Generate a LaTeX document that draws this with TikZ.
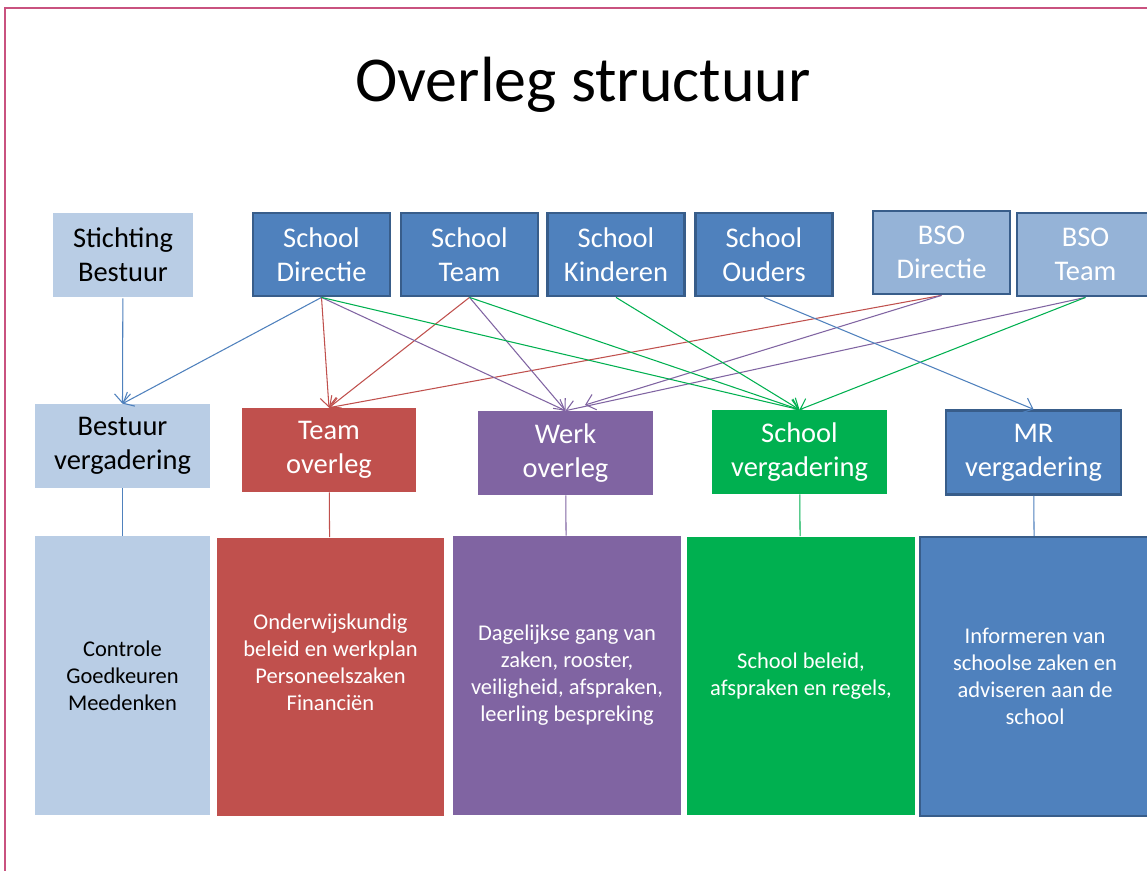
\documentclass[tikz,border=0pt]{standalone}
\usepackage{fontspec}
\setmainfont{Carlito}
\usetikzlibrary{arrows.meta}
\definecolor{paleblue}{HTML}{B9CDE5}
\definecolor{midblue}{HTML}{4F81BD}
\definecolor{bsoblue}{HTML}{95B3D7}
\definecolor{darkedge}{HTML}{385D8A}
\definecolor{teamred}{HTML}{C0504D}
\definecolor{werkpurple}{HTML}{8064A2}
\definecolor{schoolgreen}{HTML}{00B050}
\definecolor{framepink}{HTML}{C9527F}
\tikzset{topbox/.style={
            draw=darkedge,
            fill=midblue,
            line width=1.6pt,
            text=white,
            align=center,
            inner sep=0pt,
            minimum width=2.74cm,
            minimum height=1.66cm,
            font=\fontsize{16.2}{19.4}\selectfont
        },
        meetbox/.style={
            fill=#1,
            text=white,
            align=center,
            inner sep=0pt,
            minimum width=3.5cm,
            minimum height=1.68cm,
            font=\fontsize{16.2}{19.4}\selectfont
        },
        detailbox/.style={
            fill=#1,
            text=white,
            align=center,
            inner sep=0pt,
            minimum height=5.58cm,
            font=\fontsize{12.8}{15.4}\selectfont
        },
        link/.style={
            line width=0.6pt,
            -{Straight Barb[length=1.8mm,width=3.2mm]}
        },
        stem/.style={
            line width=0.6pt
        }
    }

\begin{document}
\begin{tikzpicture}[x=0.02cm,y=-0.02cm]
        \useasboundingbox[fill=white] (0,0) rectangle (1147,870);
        \draw[framepink,line width=1.4pt] (5,900) -- (5,8) -- (1200,8);
        \node at (583,85) (title) {\fontsize{36.4}{44}\selectfont Overleg structuur};
        % bovenste rij
        \node[topbox,draw=none,fill=paleblue,text=black,minimum width=2.8cm,minimum height=1.68cm] at (123,255) (stichting) {Stichting\\Bestuur};
        \node[topbox] at (321.5,254.5) (sdirectie) {School\\Directie};
        \node[topbox] at (469.5,254.5) (steam) {School\\Team};
        \node[topbox] at (616,254.5) (skinderen) {School\\Kinderen};
        \node[topbox] at (764,254.5) (souders) {School\\Ouders};
        \node[topbox,fill=bsoblue] at (941.5,252.5) (bdirectie) {BSO\\Directie};
        \node[topbox,fill=bsoblue] at (1085.5,254.5) (bteam) {BSO\\Team};
        % overleggen
        \node[meetbox=paleblue,text=black] at (122.5,446) (bestuurverg) {Bestuur\\vergadering};
        \node[meetbox=teamred] at (329,450) (teamoverleg) {Team\\overleg};
        \node[meetbox=werkpurple] at (565.5,453) (werkoverleg) {Werk\\overleg};
        \node[meetbox=schoolgreen] at (799.5,452) (schoolverg) {School\\vergadering};
        \node[meetbox=midblue,draw=darkedge,line width=1.4pt] at (1033.5,452.5) (mrverg) {MR\\vergadering};
        \coordinate (werkin) at (585,405);
        % inhoud
        \node[detailbox=paleblue,text=black,minimum width=3.5cm] at (122.5,675.5) (bestuurtaak) {Controle\\Goedkeuren\\Meedenken};
        \node[detailbox=teamred,minimum width=4.54cm] at (330.5,677) (teamtaak) {};
        \node[align=center,text=white,font=\fontsize{12.8}{15.4}\selectfont] at (330.5,662.5) (teamtekst) {Onderwijskundig\\beleid en werkplan\\Personeelszaken\\Financiën};
        \node[detailbox=werkpurple,minimum width=4.56cm] at (567,675.5) (werktaak) {Dagelijkse gang van\\zaken, rooster,\\veiligheid, afspraken,\\leerling bespreking};
        \node[detailbox=schoolgreen,minimum width=4.56cm] at (801,676) (schooltaak) {School beleid,\\afspraken en regels,};
        \node[detailbox=midblue,draw=darkedge,line width=1.4pt,minimum width=4.6cm] at (1035,676.5) (mrtaak) {Informeren van\\schoolse zaken en\\adviseren aan de\\school};
        % verbindingen
        \draw[link,midblue] (stichting) -- (bestuurverg.north);
        \draw[link,midblue] (sdirectie.south) -- (bestuurverg.north);
        \draw[link,teamred] (sdirectie.south) -- (teamoverleg.north);
        \draw[link,teamred] (steam.south) -- (teamoverleg.north);
        \draw[link,teamred] (bdirectie.south) -- (teamoverleg.north);
        \draw[link,werkpurple] (sdirectie.south) -- (werkoverleg.north);
        \draw[link,werkpurple] (steam.south) -- (werkoverleg.north);
        \draw[link,werkpurple] (bdirectie.south) -- (werkin);
        \draw[link,werkpurple] (bteam.south) -- (werkoverleg.north);
        \draw[link,schoolgreen] (sdirectie.south) -- (schoolverg.north);
        \draw[link,schoolgreen] (steam.south) -- (schoolverg.north);
        \draw[link,schoolgreen] (skinderen.south) -- (schoolverg.north);
        \draw[link,schoolgreen] (bteam.south) -- (schoolverg.north);
        \draw[link,midblue] (souders.south) -- (mrverg.north);
        \draw[stem,midblue] (bestuurverg) -- (bestuurtaak);
        \draw[stem,teamred] (teamoverleg) -- (teamtaak);
        \draw[stem,werkpurple] (werkoverleg) -- (werktaak);
        \draw[stem,schoolgreen] (schoolverg) -- (schooltaak);
        \draw[stem,midblue] (mrverg) -- (mrtaak);
    \end{tikzpicture}
\end{document}
